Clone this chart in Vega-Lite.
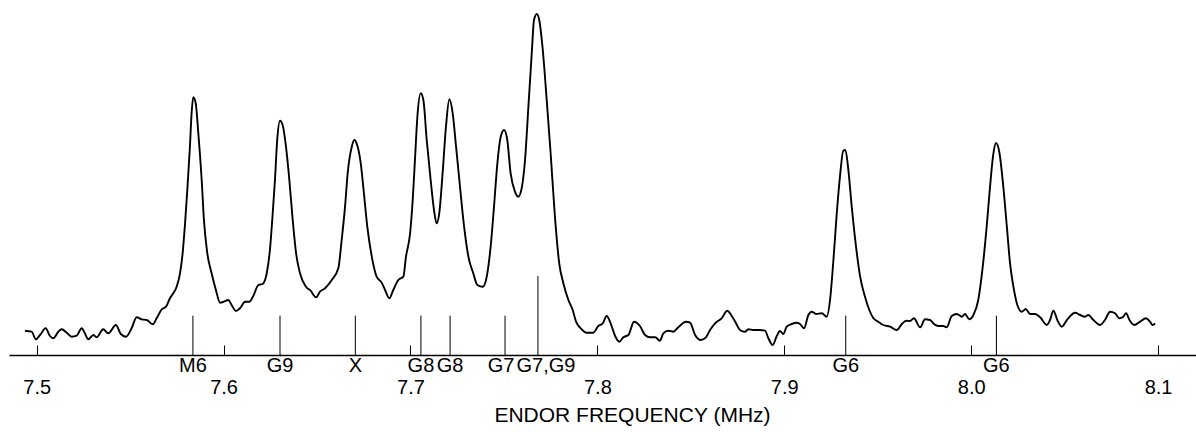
{
  "$schema": "https://vega.github.io/schema/vega-lite/v6.json",
  "width": 1187,
  "height": 355,
  "autosize": {"type": "none"},
  "padding": {"left": 9, "top": 0, "right": 0, "bottom": 77},
  "background": "white",
  "config": {"view": {"stroke": null}, "font": "Liberation Sans"},
  "datasets": {
    "spectrum": [
      {"f": 7.4937, "s": 24.3}, {"f": 7.4973, "s": 23.3}, {"f": 7.4996, "s": 15.7}, {"f": 7.5018, "s": 20},
      {"f": 7.5048, "s": 26.7}, {"f": 7.5071, "s": 19}, {"f": 7.5089, "s": 16.7}, {"f": 7.5116, "s": 23.3},
      {"f": 7.5134, "s": 25.7}, {"f": 7.5161, "s": 22.3}, {"f": 7.5187, "s": 18.3}, {"f": 7.5214, "s": 19.3},
      {"f": 7.5241, "s": 26.7}, {"f": 7.5258, "s": 21.7}, {"f": 7.5276, "s": 15.7}, {"f": 7.5303, "s": 20},
      {"f": 7.5321, "s": 17.7}, {"f": 7.5356, "s": 25.7}, {"f": 7.5383, "s": 21.7}, {"f": 7.5424, "s": 30},
      {"f": 7.545, "s": 21}, {"f": 7.5478, "s": 18.3}, {"f": 7.5508, "s": 26.7}, {"f": 7.5535, "s": 37.7},
      {"f": 7.5562, "s": 35.7}, {"f": 7.5589, "s": 35}, {"f": 7.5621, "s": 30.7}, {"f": 7.5642, "s": 36.7},
      {"f": 7.5669, "s": 45.7}, {"f": 7.5692, "s": 48.3}, {"f": 7.5713, "s": 56.7}, {"f": 7.5731, "s": 61.7},
      {"f": 7.5749, "s": 68.3}, {"f": 7.5767, "s": 81.7}, {"f": 7.5781, "s": 101.7}, {"f": 7.5794, "s": 131.7},
      {"f": 7.5806, "s": 165}, {"f": 7.582, "s": 208.3}, {"f": 7.5829, "s": 241.7}, {"f": 7.5838, "s": 257.7},
      {"f": 7.5851, "s": 251.7}, {"f": 7.5865, "s": 221.7}, {"f": 7.5874, "s": 200}, {"f": 7.5883, "s": 175},
      {"f": 7.5895, "s": 135}, {"f": 7.5913, "s": 101.7}, {"f": 7.5936, "s": 81.7}, {"f": 7.5959, "s": 65},
      {"f": 7.5981, "s": 52.3}, {"f": 7.6002, "s": 53.3}, {"f": 7.6025, "s": 55}, {"f": 7.6043, "s": 50},
      {"f": 7.6066, "s": 44}, {"f": 7.6088, "s": 46.7}, {"f": 7.6115, "s": 53.3}, {"f": 7.6138, "s": 53.3},
      {"f": 7.6159, "s": 59}, {"f": 7.6186, "s": 70}, {"f": 7.6209, "s": 71}, {"f": 7.6231, "s": 81.7},
      {"f": 7.6248, "s": 105}, {"f": 7.6263, "s": 141.7}, {"f": 7.6275, "s": 175}, {"f": 7.6287, "s": 215},
      {"f": 7.6302, "s": 234.3}, {"f": 7.6316, "s": 230}, {"f": 7.6334, "s": 208.3}, {"f": 7.6352, "s": 175},
      {"f": 7.637, "s": 135}, {"f": 7.6388, "s": 101.7}, {"f": 7.6409, "s": 81.7}, {"f": 7.6441, "s": 68.3},
      {"f": 7.6466, "s": 64.3}, {"f": 7.6495, "s": 57.7}, {"f": 7.6516, "s": 63.3}, {"f": 7.6543, "s": 66.7},
      {"f": 7.6579, "s": 75}, {"f": 7.6614, "s": 86.7}, {"f": 7.6632, "s": 115}, {"f": 7.665, "s": 148.3},
      {"f": 7.6664, "s": 181.7}, {"f": 7.6686, "s": 208.3}, {"f": 7.67, "s": 215}, {"f": 7.6712, "s": 211.7},
      {"f": 7.6734, "s": 191.7}, {"f": 7.6751, "s": 161.7}, {"f": 7.6769, "s": 128.3}, {"f": 7.6793, "s": 98.3},
      {"f": 7.6819, "s": 78.3}, {"f": 7.6846, "s": 72.3}, {"f": 7.6864, "s": 65}, {"f": 7.6887, "s": 56.7},
      {"f": 7.6908, "s": 65}, {"f": 7.6935, "s": 75}, {"f": 7.6962, "s": 78.3}, {"f": 7.6976, "s": 98.3},
      {"f": 7.6998, "s": 121.7}, {"f": 7.7012, "s": 155}, {"f": 7.7024, "s": 195}, {"f": 7.7037, "s": 238.3},
      {"f": 7.7055, "s": 261.7}, {"f": 7.7069, "s": 255}, {"f": 7.7087, "s": 215}, {"f": 7.7108, "s": 175},
      {"f": 7.7126, "s": 145}, {"f": 7.714, "s": 131.7}, {"f": 7.7154, "s": 141.7}, {"f": 7.7172, "s": 181.7},
      {"f": 7.719, "s": 228.3}, {"f": 7.7208, "s": 255.7}, {"f": 7.7226, "s": 241.7}, {"f": 7.7244, "s": 208.3},
      {"f": 7.7265, "s": 168.3}, {"f": 7.7287, "s": 128.3}, {"f": 7.731, "s": 98.3}, {"f": 7.7336, "s": 81.7},
      {"f": 7.7358, "s": 70}, {"f": 7.7387, "s": 68.3}, {"f": 7.7408, "s": 78.3}, {"f": 7.7429, "s": 108.3},
      {"f": 7.7447, "s": 148.3}, {"f": 7.7465, "s": 191.7}, {"f": 7.7483, "s": 218.3}, {"f": 7.7501, "s": 225},
      {"f": 7.7518, "s": 215}, {"f": 7.7536, "s": 181.7}, {"f": 7.7559, "s": 163.3}, {"f": 7.7577, "s": 158.3},
      {"f": 7.7595, "s": 166.7}, {"f": 7.7613, "s": 195}, {"f": 7.7631, "s": 248.3}, {"f": 7.7649, "s": 301.7},
      {"f": 7.7661, "s": 335}, {"f": 7.7676, "s": 341}, {"f": 7.7689, "s": 335}, {"f": 7.7708, "s": 305},
      {"f": 7.7729, "s": 255}, {"f": 7.775, "s": 201.7}, {"f": 7.7773, "s": 138.3}, {"f": 7.7796, "s": 91.7},
      {"f": 7.7818, "s": 71.7}, {"f": 7.7845, "s": 55}, {"f": 7.7868, "s": 45}, {"f": 7.7886, "s": 33.3},
      {"f": 7.7911, "s": 26.7}, {"f": 7.7943, "s": 22.3}, {"f": 7.7978, "s": 22.3}, {"f": 7.8005, "s": 29},
      {"f": 7.8029, "s": 31.7}, {"f": 7.805, "s": 39}, {"f": 7.8071, "s": 31.7}, {"f": 7.8095, "s": 19},
      {"f": 7.8118, "s": 13.3}, {"f": 7.8139, "s": 17.7}, {"f": 7.8166, "s": 20}, {"f": 7.8196, "s": 33.3},
      {"f": 7.8228, "s": 29}, {"f": 7.8255, "s": 20}, {"f": 7.8282, "s": 17.7}, {"f": 7.8309, "s": 17.7},
      {"f": 7.8335, "s": 14.3}, {"f": 7.8353, "s": 21.7}, {"f": 7.838, "s": 24.3}, {"f": 7.8406, "s": 23.3},
      {"f": 7.8433, "s": 27.7}, {"f": 7.8474, "s": 33.3}, {"f": 7.8496, "s": 32.3}, {"f": 7.8523, "s": 20},
      {"f": 7.8553, "s": 15}, {"f": 7.8581, "s": 17.7}, {"f": 7.8603, "s": 25}, {"f": 7.863, "s": 31.7},
      {"f": 7.8665, "s": 36.7}, {"f": 7.8695, "s": 44.3}, {"f": 7.8719, "s": 39}, {"f": 7.8742, "s": 31.7},
      {"f": 7.8763, "s": 25}, {"f": 7.879, "s": 23.3}, {"f": 7.8808, "s": 25.7}, {"f": 7.8834, "s": 25},
      {"f": 7.887, "s": 25}, {"f": 7.8897, "s": 24.3}, {"f": 7.8915, "s": 16.7}, {"f": 7.8938, "s": 10},
      {"f": 7.896, "s": 19}, {"f": 7.8977, "s": 24}, {"f": 7.8995, "s": 21}, {"f": 7.9013, "s": 28.3},
      {"f": 7.904, "s": 31}, {"f": 7.9067, "s": 32.3}, {"f": 7.9084, "s": 31}, {"f": 7.9106, "s": 26.7},
      {"f": 7.9129, "s": 40}, {"f": 7.9147, "s": 43.3}, {"f": 7.917, "s": 41}, {"f": 7.9201, "s": 41.7},
      {"f": 7.9227, "s": 38.3}, {"f": 7.9245, "s": 55}, {"f": 7.9263, "s": 95}, {"f": 7.9281, "s": 141.7},
      {"f": 7.9298, "s": 178.3}, {"f": 7.9316, "s": 204.3}, {"f": 7.9327, "s": 205}, {"f": 7.9343, "s": 185},
      {"f": 7.9361, "s": 148.3}, {"f": 7.9384, "s": 108.3}, {"f": 7.9406, "s": 78.3}, {"f": 7.9432, "s": 58.3},
      {"f": 7.9455, "s": 45}, {"f": 7.9477, "s": 36.7}, {"f": 7.9503, "s": 33.3}, {"f": 7.953, "s": 30},
      {"f": 7.9566, "s": 28.3}, {"f": 7.9602, "s": 25}, {"f": 7.9629, "s": 31}, {"f": 7.9652, "s": 34.3},
      {"f": 7.9673, "s": 34}, {"f": 7.9694, "s": 36.7}, {"f": 7.9727, "s": 27.7}, {"f": 7.9753, "s": 35.7},
      {"f": 7.978, "s": 35}, {"f": 7.9801, "s": 31}, {"f": 7.9824, "s": 29}, {"f": 7.9851, "s": 29},
      {"f": 7.9869, "s": 27.7}, {"f": 7.9896, "s": 39}, {"f": 7.9923, "s": 41}, {"f": 7.995, "s": 38.3},
      {"f": 7.9967, "s": 41}, {"f": 7.999, "s": 35.7}, {"f": 8.0012, "s": 40}, {"f": 8.0038, "s": 55},
      {"f": 8.0062, "s": 88.3}, {"f": 8.0083, "s": 128.3}, {"f": 8.0101, "s": 168.3}, {"f": 8.0119, "s": 201.7},
      {"f": 8.0133, "s": 212}, {"f": 8.0151, "s": 202.5}, {"f": 8.0172, "s": 168.3}, {"f": 8.0191, "s": 128.3},
      {"f": 8.0208, "s": 91.7}, {"f": 8.0226, "s": 68.3}, {"f": 8.0247, "s": 50}, {"f": 8.0271, "s": 43.3},
      {"f": 8.0292, "s": 46}, {"f": 8.0315, "s": 41}, {"f": 8.0342, "s": 41}, {"f": 8.0369, "s": 37.7},
      {"f": 8.0405, "s": 30}, {"f": 8.0422, "s": 35}, {"f": 8.044, "s": 44.3}, {"f": 8.0461, "s": 35},
      {"f": 8.0485, "s": 28.3}, {"f": 8.0515, "s": 35.7}, {"f": 8.0556, "s": 42.3}, {"f": 8.0583, "s": 40},
      {"f": 8.0609, "s": 38.3}, {"f": 8.0627, "s": 40}, {"f": 8.0654, "s": 35}, {"f": 8.069, "s": 30},
      {"f": 8.0716, "s": 35}, {"f": 8.0743, "s": 43.3}, {"f": 8.077, "s": 41.7}, {"f": 8.0793, "s": 36.7},
      {"f": 8.0814, "s": 38.3}, {"f": 8.0829, "s": 41.7}, {"f": 8.0847, "s": 35}, {"f": 8.0872, "s": 30},
      {"f": 8.0904, "s": 33.3}, {"f": 8.0935, "s": 36.7}, {"f": 8.0957, "s": 33.3}, {"f": 8.0971, "s": 30},
      {"f": 8.0984, "s": 31.7}
    ],
    "peaks": [
      {"f": 7.5836, "h": 39.3, "label": "M6"},
      {"f": 7.6302, "h": 39.3, "label": "G9"},
      {"f": 7.6705, "h": 39.3, "label": "X"},
      {"f": 7.7056, "h": 39.3, "label": "G8"},
      {"f": 7.7212, "h": 39.3, "label": "G8"},
      {"f": 7.7506, "h": 39.3, "label": "G7"},
      {"f": 7.7682, "h": 79, "label": "G7,G9"},
      {"f": 7.9329, "h": 39.3, "label": "G6"},
      {"f": 8.0135, "h": 39.3, "label": "G6"}
    ]
  },
  "layer": [
    {
      "data": {"name": "spectrum"},
      "mark": {"type": "line", "color": "black", "strokeWidth": 1.9, "interpolate": "monotone", "clip": false},
      "encoding": {
        "x": {
          "field": "f", "type": "quantitative",
          "scale": {"domain": [7.4852, 8.1203], "nice": false, "zero": false},
          "axis": {
            "values": [7.5, 7.6, 7.7, 7.8, 7.9, 8.0, 8.1],
            "format": ".1f",
            "grid": false,
            "tickSize": -10,
            "tickColor": "black",
            "tickWidth": 1,
            "domainColor": "black",
            "domainWidth": 1.5,
            "labelFont": "Liberation Sans",
            "labelFontSize": 20,
            "labelColor": "black",
            "labelPadding": 32,
            "title": "ENDOR FREQUENCY (MHz)",
            "titleFont": "Liberation Sans",
            "titleFontSize": 21,
            "titleFontWeight": "normal",
            "titleColor": "black",
            "titleX": 623,
            "titleY": 60,
            "titleBaseline": "middle",
            "titleAlign": "center"
          }
        },
        "y": {"field": "s", "type": "quantitative", "scale": {"domain": [0, 355], "nice": false}, "axis": null}
      }
    },
    {
      "data": {"name": "peaks"},
      "mark": {"type": "rule", "color": "black", "strokeWidth": 1},
      "encoding": {
        "x": {"field": "f", "type": "quantitative"},
        "y": {"field": "h", "type": "quantitative"},
        "y2": {"datum": 0}
      }
    },
    {
      "data": {"name": "peaks"},
      "transform": [{"filter": "datum.label != 'G7' && datum.label != 'G7,G9'"}],
      "mark": {"type": "text", "fontSize": 20, "baseline": "middle", "dy": 11, "color": "black", "font": "Liberation Sans"},
      "encoding": {
        "x": {"field": "f", "type": "quantitative"},
        "y": {"datum": 0},
        "text": {"field": "label", "type": "nominal"}
      }
    },
    {
      "data": {"name": "peaks"},
      "transform": [{"filter": "datum.label == 'G7'"}],
      "mark": {"type": "text", "fontSize": 20, "baseline": "middle", "dy": 11, "dx": -4, "color": "black", "font": "Liberation Sans"},
      "encoding": {
        "x": {"field": "f", "type": "quantitative"},
        "y": {"datum": 0},
        "text": {"field": "label", "type": "nominal"}
      }
    },
    {
      "data": {"name": "peaks"},
      "transform": [{"filter": "datum.label == 'G7,G9'"}],
      "mark": {"type": "text", "fontSize": 20, "baseline": "middle", "dy": 11, "dx": 8, "color": "black", "font": "Liberation Sans"},
      "encoding": {
        "x": {"field": "f", "type": "quantitative"},
        "y": {"datum": 0},
        "text": {"field": "label", "type": "nominal"}
      }
    }
  ]
}
